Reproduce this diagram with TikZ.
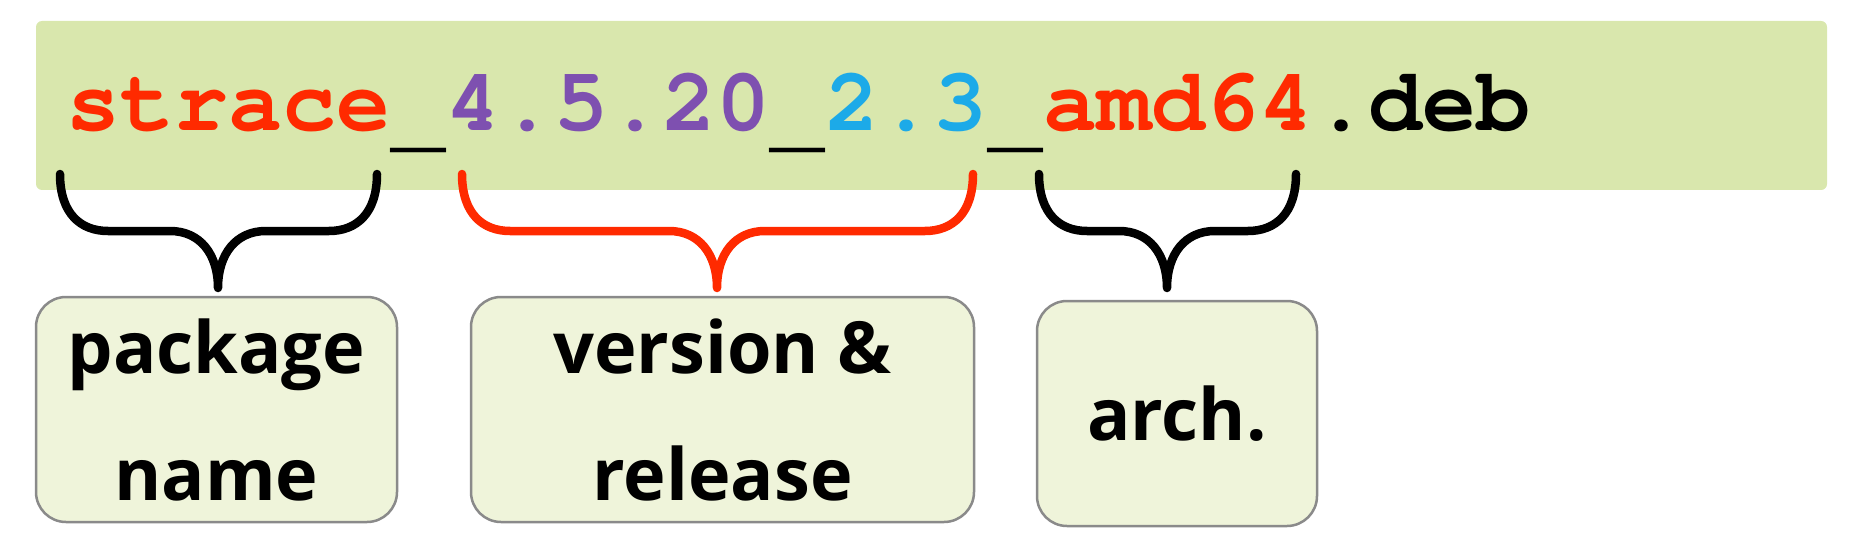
\documentclass[tikz,border=0pt]{standalone}
\usepackage[T1]{fontenc}
\usepackage{fontspec}
\setmainfont{Open Sans}
\usepackage{xcolor}
\usetikzlibrary{positioning}
\definecolor{bandgreen}{HTML}{D9E7AD}
\definecolor{boxfill}{HTML}{EFF4DA}
\definecolor{boxline}{HTML}{8A8A8A}
\definecolor{fnred}{HTML}{FF2A00}
\definecolor{fnpurple}{HTML}{7E50B0}
\definecolor{fncyan}{HTML}{1CAAE8}
\newcommand{\courierbold}{\fontencoding{T1}\fontfamily{pcr}\fontseries{b}\fontshape{n}\fontsize{45}{54}\selectfont}
\newcommand{\lowbar}{\raisebox{-5.5pt}{\_}}
\tikzset{
  fname/.style={inner sep=0pt, anchor=base west, font=\courierbold},
  partbox/.style={draw=boxline, line width=1.25pt, fill=boxfill, rounded corners=15pt, minimum height=112.5pt, inner sep=0pt, align=center, font=\fontsize{36}{63.5}\selectfont\bfseries},
  brace/.style={line width=4.25pt, line cap=round, line join=round},
}

\begin{document}
\begin{tikzpicture}[x=0.5pt,y=-0.5pt]
  \useasboundingbox (0,0) rectangle (1870,551);
  % File name band
  \fill[bandgreen, rounded corners=3pt] (36,21) rectangle (1827,190);
  % File name, one node per part
  \node[fname, text=fnred] (pkg) at (66,131) {strace};
  \node[fname] (sepa) at (pkg.base east) {\lowbar};
  \node[fname, text=fnpurple] (ver) at (sepa.base east) {4.5.20};
  \node[fname] (sepb) at (ver.base east) {\lowbar};
  \node[fname, text=fncyan] (rel) at (sepb.base east) {2.3};
  \node[fname] (sepc) at (rel.base east) {\lowbar};
  \node[fname, text=fnred] (arch) at (sepc.base east) {amd64};
  \node[fname] (ext) at (arch.base east) {.deb};
  % Part boxes
  \node[partbox, minimum width=180.5pt] (pkgbox) at (216.5,409.5) {package\\name};
  \node[partbox, minimum width=251.5pt] (verbox) at (722.5,409.5) {version \&\\release};
  \node[partbox, minimum width=140pt] (archbox) at (1177,413.5) {arch.};
  % Braces
  \foreach \nm/\l/\t/\r/\col in {pkg/60/218/377/black, ver/462/717/973/fnred, arch/1039/1167/1296/black} {
    \coordinate (\nm L) at (\l,174);
    \coordinate (\nm R) at (\r,174);
    \coordinate (\nm T) at (\t,288);
    \draw[brace, \col] (\nm L) .. controls +(0,40) and +(-27,0) .. (\l+48,231) -- (\t-48,231)
      .. controls +(30,0) and +(0,-34) .. (\nm T) .. controls +(0,-34) and +(-30,0) .. (\t+48,231)
      -- (\r-48,231) .. controls +(27,0) and +(0,40) .. (\nm R);
  }
\end{tikzpicture}
\end{document}
